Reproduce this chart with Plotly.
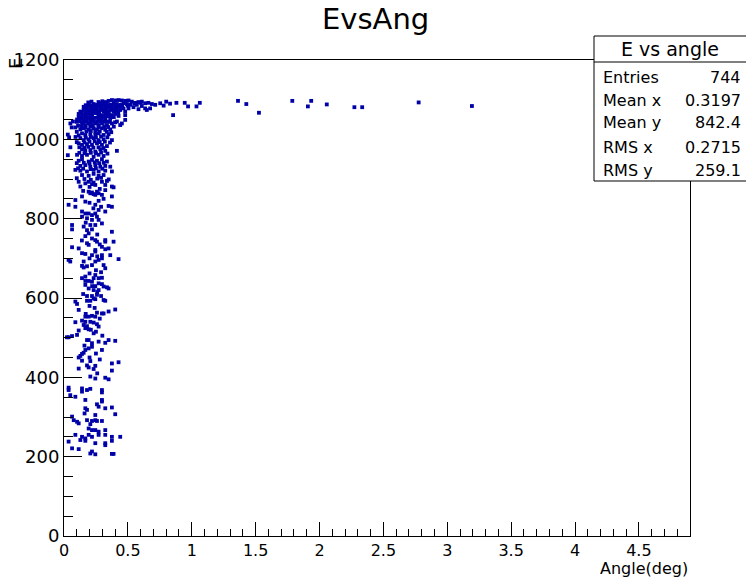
import plotly.graph_objects as go

# Energy vs scattering angle, one entry per event (angle in deg, energy)
events = [
    # low-energy tail, 200-400
    (0.206, 402), (0.245, 397), (0.323, 399), (0.349, 395),
    (0.036, 374), (0.036, 368), (0.141, 372), (0.180, 368), (0.206, 371), (0.141, 364),
    (0.297, 368), (0.297, 362), (0.049, 355), (0.089, 351), (0.167, 343), (0.297, 343),
    (0.297, 339), (0.258, 332), (0.271, 326), (0.323, 322), (0.375, 324), (0.167, 322),
    (0.180, 318), (0.161, 309), (0.401, 307), (0.245, 305), (0.063, 301), (0.076, 292),
    (0.102, 288), (0.115, 284), (0.180, 292), (0.219, 290), (0.245, 292), (0.258, 290),
    (0.206, 282), (0.297, 290), (0.193, 271), (0.219, 267), (0.245, 267), (0.271, 263),
    (0.323, 267), (0.089, 255), (0.141, 250), (0.167, 246), (0.193, 255), (0.219, 250),
    (0.271, 255), (0.323, 255), (0.375, 250), (0.440, 250), (0.036, 238), (0.128, 242),
    (0.167, 240), (0.245, 234), (0.323, 234), (0.323, 229), (0.375, 240), (0.063, 221),
    (0.115, 219), (0.219, 213), (0.206, 208), (0.245, 206), (0.375, 207), (0.388, 207),
    # 400-650
    (0.167, 643), (0.193, 643), (0.219, 641), (0.271, 637), (0.297, 635), (0.167, 633),
    (0.245, 630), (0.310, 629), (0.336, 627), (0.349, 624), (0.193, 624), (0.232, 620),
    (0.271, 620), (0.180, 605), (0.219, 605), (0.258, 608), (0.232, 599), (0.245, 597),
    (0.206, 593), (0.180, 593), (0.310, 595), (0.323, 593), (0.089, 591), (0.102, 585),
    (0.115, 570), (0.258, 563), (0.297, 561), (0.310, 561), (0.349, 566), (0.401, 571),
    (0.167, 553), (0.193, 553), (0.219, 555), (0.245, 553), (0.141, 543), (0.167, 540),
    (0.089, 539), (0.206, 540), (0.232, 538), (0.154, 532), (0.180, 529), (0.258, 534),
    (0.271, 528), (0.167, 524), (0.193, 521), (0.115, 518), (0.232, 511), (0.063, 504),
    (0.102, 507), (0.023, 501), (0.036, 501), (0.180, 494), (0.193, 494), (0.219, 486),
    (0.271, 490), (0.323, 487), (0.349, 494), (0.401, 492), (0.219, 477), (0.193, 473),
    (0.167, 469), (0.297, 469), (0.154, 462), (0.141, 459), (0.128, 454), (0.115, 450),
    (0.141, 442), (0.206, 441), (0.375, 435), (0.427, 438), (0.245, 429), (0.193, 425),
    (0.232, 421), (0.115, 422), (0.375, 417),
    (0.220, 630), (0.260, 615), (0.150, 610), (0.290, 605), (0.200, 580), (0.240, 575),
    (0.170, 560), (0.280, 548), (0.210, 520), (0.250, 515), (0.300, 505), (0.160, 480),
    (0.250, 460), (0.200, 450), (0.280, 445), (0.180, 430), (0.260, 410),
    # 650-900
    (0.115, 893), (0.128, 881), (0.167, 889), (0.193, 893), (0.219, 887), (0.232, 891),
    (0.245, 885), (0.297, 893), (0.323, 885), (0.336, 895), (0.375, 881), (0.388, 879),
    (0.193, 868), (0.206, 864), (0.219, 866), (0.232, 862), (0.245, 860), (0.271, 864),
    (0.297, 860), (0.258, 868), (0.141, 856), (0.375, 856), (0.323, 872), (0.089, 847),
    (0.167, 843), (0.271, 845), (0.036, 835), (0.089, 830), (0.245, 835), (0.349, 832),
    (0.375, 830), (0.271, 822), (0.141, 818), (0.167, 813), (0.193, 813), (0.219, 809),
    (0.245, 813), (0.258, 805), (0.323, 818), (0.180, 801), (0.141, 805), (0.219, 797),
    (0.271, 797), (0.297, 788), (0.063, 784), (0.063, 773), (0.154, 780), (0.206, 784),
    (0.245, 784), (0.180, 771), (0.219, 773), (0.375, 767), (0.193, 763), (0.167, 756),
    (0.219, 750), (0.245, 746), (0.258, 742), (0.323, 746), (0.323, 742), (0.388, 742),
    (0.180, 738), (0.193, 734), (0.115, 725), (0.063, 728), (0.297, 729), (0.349, 725),
    (0.245, 717), (0.323, 723), (0.245, 721), (0.141, 713), (0.167, 711), (0.219, 708),
    (0.297, 708), (0.297, 700), (0.362, 708), (0.036, 696), (0.049, 692), (0.154, 692),
    (0.245, 692), (0.271, 696), (0.427, 698), (0.141, 681), (0.154, 677), (0.219, 683),
    (0.310, 683), (0.323, 675), (0.167, 654), (0.141, 650), (0.245, 658), (0.232, 650),
    (0.271, 650), (0.297, 651),
    (0.200, 880), (0.280, 875), (0.150, 870), (0.310, 850), (0.200, 840), (0.230, 826),
    (0.290, 830), (0.170, 790), (0.260, 760), (0.140, 745), (0.280, 735), (0.200, 700),
    (0.260, 705), (0.180, 680), (0.250, 670), (0.200, 662), (0.290, 665),
    # 900-1100, dense core
    (0.349, 1097), (0.375, 1099), (0.401, 1098), (0.427, 1099), (0.453, 1098), (0.479, 1097),
    (0.505, 1098), (0.531, 1095), (0.557, 1092), (0.583, 1094), (0.609, 1095), (0.635, 1091),
    (0.661, 1092), (0.688, 1089), (0.714, 1087), (0.753, 1091),
    (0.232, 1089), (0.258, 1087), (0.284, 1091), (0.310, 1089), (0.336, 1091), (0.362, 1087),
    (0.388, 1091), (0.414, 1089), (0.440, 1087), (0.466, 1091), (0.492, 1089), (0.518, 1087),
    (0.570, 1087), (0.609, 1084), (0.635, 1078), (0.674, 1078),
    (0.154, 1082), (0.180, 1081), (0.206, 1084), (0.232, 1078), (0.258, 1081), (0.284, 1082),
    (0.310, 1078), (0.336, 1081), (0.362, 1082), (0.388, 1078), (0.414, 1081), (0.440, 1082),
    (0.466, 1078), (0.505, 1078), (0.544, 1081), (0.583, 1076),
    (0.128, 1070), (0.154, 1074), (0.180, 1072), (0.206, 1076), (0.232, 1070), (0.258, 1072),
    (0.284, 1074), (0.310, 1070), (0.336, 1072), (0.362, 1074), (0.388, 1070), (0.414, 1072),
    (0.440, 1074), (0.479, 1070), (0.648, 1074),
    (0.115, 1064), (0.141, 1061), (0.167, 1066), (0.193, 1064), (0.219, 1061), (0.245, 1066),
    (0.271, 1064), (0.297, 1061), (0.323, 1066), (0.349, 1064), (0.375, 1061), (0.401, 1064),
    (0.427, 1059), (0.479, 1061),
    (0.102, 1050), (0.128, 1053), (0.154, 1049), (0.180, 1053), (0.206, 1050), (0.232, 1053),
    (0.271, 1049), (0.297, 1053), (0.323, 1050), (0.362, 1053), (0.414, 1045), (0.453, 1040),
    (0.479, 1049),
    (0.141, 1040), (0.167, 1036), (0.193, 1040), (0.219, 1036), (0.245, 1040), (0.271, 1036),
    (0.297, 1040), (0.336, 1036), (0.375, 1040), (0.440, 1036),
    (0.089, 1030), (0.128, 1025), (0.154, 1028), (0.193, 1024), (0.232, 1028), (0.258, 1025),
    (0.297, 1028), (0.323, 1024), (0.362, 1025),
    (0.141, 1015), (0.167, 1011), (0.206, 1013), (0.245, 1011), (0.271, 1015), (0.310, 1011),
    (0.349, 1013),
    (0.128, 1003), (0.154, 998), (0.193, 1000), (0.232, 1003), (0.271, 998), (0.310, 1000),
    (0.375, 998),
    (0.115, 990), (0.141, 986), (0.180, 988), (0.219, 986), (0.258, 990), (0.297, 986),
    (0.336, 983),
    (0.141, 975), (0.167, 971), (0.206, 973), (0.245, 969), (0.284, 975), (0.323, 971),
    (0.414, 971),
    (0.102, 961), (0.141, 958), (0.180, 961), (0.232, 956), (0.271, 961), (0.310, 958),
    (0.115, 946), (0.141, 950), (0.193, 944), (0.219, 948), (0.258, 946), (0.297, 950),
    (0.336, 944),
    (0.128, 933), (0.167, 935), (0.206, 931), (0.245, 935), (0.284, 931), (0.323, 933),
    (0.362, 931),
    (0.089, 923), (0.128, 921), (0.180, 919), (0.232, 923), (0.271, 919), (0.323, 921),
    (0.375, 919),
    (0.141, 910), (0.193, 908), (0.232, 913), (0.271, 908), (0.310, 910),
    (0.030, 1012), (0.040, 1005), (0.050, 1040), (0.060, 1030), (0.070, 1045), (0.030, 960),
    (0.050, 980),
    (0.190, 1093), (0.215, 1095), (0.270, 1094), (0.300, 1096), (0.325, 1094),
    (0.170, 1086), (0.195, 1088), (0.220, 1085), (0.245, 1084), (0.270, 1086), (0.296, 1085),
    (0.322, 1086), (0.348, 1084), (0.375, 1086), (0.400, 1085), (0.430, 1084), (0.455, 1086),
    (0.500, 1085), (0.550, 1090), (0.600, 1092),
    (0.140, 1068), (0.165, 1077), (0.195, 1069), (0.220, 1068), (0.245, 1076), (0.275, 1068),
    (0.300, 1076), (0.325, 1075), (0.350, 1068), (0.372, 1076), (0.400, 1077), (0.425, 1068),
    (0.115, 1057), (0.140, 1055), (0.165, 1057), (0.192, 1056), (0.218, 1057), (0.245, 1054),
    (0.270, 1057), (0.295, 1056), (0.322, 1057), (0.345, 1058), (0.390, 1056),
    (0.100, 1044), (0.125, 1045), (0.150, 1043), (0.178, 1046), (0.205, 1043), (0.230, 1045),
    (0.258, 1044), (0.283, 1046), (0.310, 1044), (0.335, 1045), (0.360, 1044), (0.400, 1043),
    (0.110, 1034), (0.140, 1032), (0.170, 1030), (0.205, 1032), (0.225, 1033), (0.270, 1031),
    (0.315, 1033), (0.345, 1031), (0.390, 1032),
    (0.100, 1019), (0.115, 1010), (0.175, 1020), (0.210, 1021), (0.245, 1019), (0.280, 1020),
    (0.335, 1019), (0.370, 1018),
    (0.090, 1006), (0.170, 1004), (0.210, 1006), (0.250, 1005), (0.290, 1007), (0.340, 1005),
    (0.100, 993), (0.160, 992), (0.200, 994), (0.240, 995), (0.280, 993), (0.320, 994),
    (0.360, 992),
    (0.120, 980), (0.160, 979), (0.190, 981), (0.230, 979), (0.270, 980), (0.310, 978),
    (0.120, 966), (0.160, 965), (0.210, 966), (0.250, 965), (0.290, 967), (0.340, 964),
    (0.100, 940), (0.155, 941), (0.200, 939), (0.240, 942), (0.275, 940), (0.310, 941),
    (0.110, 927), (0.150, 926), (0.210, 925), (0.250, 927), (0.300, 926),
    (0.100, 902), (0.160, 900), (0.210, 898), (0.260, 901), (0.290, 903), (0.350, 899),
    # sparse large-angle events near full energy
    (0.800, 1095), (0.830, 1090), (0.780, 1085), (0.854, 1061), (0.880, 1092), (0.945, 1092),
    (0.971, 1083), (1.037, 1083), (1.063, 1092), (1.362, 1097), (1.427, 1089), (1.526, 1067),
    (1.787, 1097), (1.909, 1083), (1.935, 1097), (2.057, 1088), (2.273, 1081), (2.334, 1081),
    (2.776, 1093), (3.193, 1084),
]
angle = [a for a, _ in events]
energy = [e for _, e in events]

stat_names = ["Entries", "Mean x", "Mean y", "RMS x", "RMS y"]
stat_values = ["744", "0.3197", "842.4", "0.2715", "259.1"]

FONT = "DejaVu Sans"

# plot frame in pixels: left 64, right 690, top 60, bottom 536
L, R, T, B = 64, 690, 60, 536


def px(x):
    return (x - L) / (R - L)


def py(y):
    return (B - y) / (B - T)


fig = go.Figure(
    go.Scatter(
        x=angle,
        y=energy,
        mode="markers",
        marker=dict(symbol="square", size=3.8, color="#0000a8", line=dict(width=0)),
        hoverinfo="skip",
    )
)

axis_common = dict(
    showgrid=False,
    zeroline=False,
    showline=True,
    linecolor="black",
    linewidth=1,
    mirror=True,
    ticks="inside",
    tickcolor="black",
    tickwidth=1,
)

fig.update_layout(
    width=746,
    height=579,
    margin=dict(l=L, r=746 - R, t=T, b=579 - B),
    paper_bgcolor="white",
    plot_bgcolor="white",
    showlegend=False,
    xaxis=dict(
        range=[0, 4.9],
        tick0=0,
        dtick=0.5,
        ticklen=14,
        tickfont=dict(family=FONT, size=16, color="black"),
        minor=dict(dtick=0.1, ticklen=7, ticks="inside", tickcolor="black"),
        **axis_common,
    ),
    yaxis=dict(
        range=[0, 1200],
        tick0=0,
        dtick=200,
        ticklen=18,
        tickfont=dict(family=FONT, size=18, color="black"),
        minor=dict(dtick=50, ticklen=9, ticks="inside", tickcolor="black"),
        **axis_common,
    ),
)

ann = []
ann.append(dict(text="EvsAng", x=px(375), y=py(19), xref="paper", yref="paper",
                xanchor="center", yanchor="middle", showarrow=False,
                font=dict(family=FONT, size=29, color="black")))
ann.append(dict(text="Angle(deg)", x=px(689), y=py(578.5), xref="paper", yref="paper",
                xanchor="right", yanchor="bottom", showarrow=False, borderpad=0,
                font=dict(family=FONT, size=16, color="black")))
ann.append(dict(text="E", x=px(16), y=py(64), xref="paper", yref="paper",
                xanchor="center", yanchor="middle", showarrow=False, textangle=-90,
                font=dict(family=FONT, size=18, color="black")))

# statistics box
box_l, box_r, box_t, box_b, head_b = 594, 760, 36, 181, 62
shapes = [
    dict(type="rect", xref="paper", yref="paper", x0=px(box_l), x1=px(box_r),
         y0=py(box_b), y1=py(box_t), fillcolor="white", line=dict(color="black", width=1)),
    dict(type="line", xref="paper", yref="paper", x0=px(box_l), x1=px(box_r),
         y0=py(head_b), y1=py(head_b), line=dict(color="black", width=1)),
]
ann.append(dict(text="E vs angle", x=px(670), y=py(49), xref="paper", yref="paper",
                xanchor="center", yanchor="middle", showarrow=False,
                font=dict(family=FONT, size=19, color="black")))
row_y = [77, 100, 123, 147, 170]
for name, val, yy in zip(stat_names, stat_values, row_y):
    ann.append(dict(text=name, x=px(601), y=py(yy), xref="paper", yref="paper",
                    xanchor="left", yanchor="middle", showarrow=False,
                    font=dict(family=FONT, size=16, color="black")))
    ann.append(dict(text=val, x=px(743), y=py(yy), xref="paper", yref="paper",
                    xanchor="right", yanchor="middle", showarrow=False,
                    font=dict(family=FONT, size=16, color="black")))

fig.update_layout(annotations=ann, shapes=shapes)

fig.write_html("out.html")
